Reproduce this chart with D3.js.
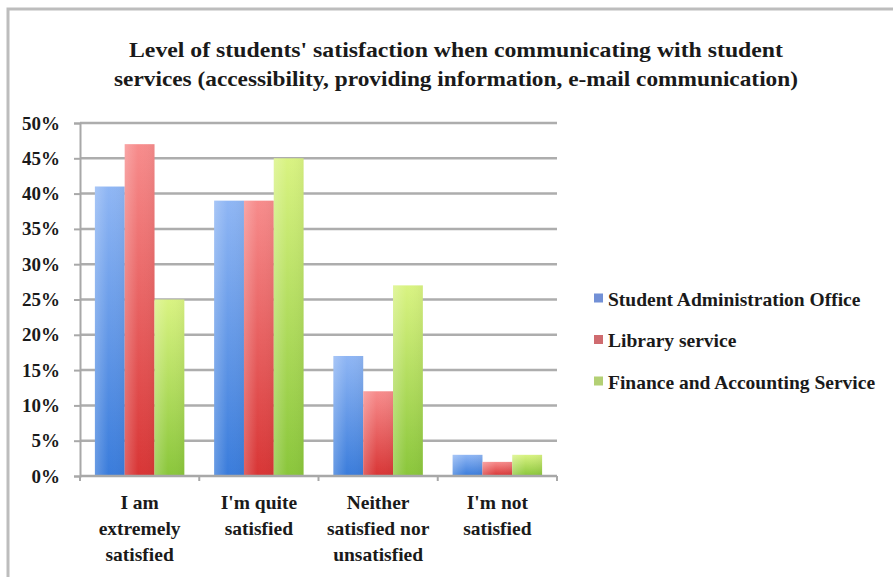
<!DOCTYPE html>
<html>
<head>
<meta charset="utf-8">
<script src="https://cdn.jsdelivr.net/npm/d3@7"></script>
<style>
  html, body { margin: 0; padding: 0; background: #fff; }
</style>
</head>
<body>
<svg id="chart" width="895" height="577"></svg>
<script>
// Survey answers (x categories), one label line per array entry
const categories = [
  ["I am", "extremely", "satisfied"],
  ["I'm quite", "satisfied"],
  ["Neither", "satisfied nor", "unsatisfied"],
  ["I'm not", "satisfied"]
];
const seriesNames = ["Student Administration Office", "Library service", "Finance and Accounting Service"];
// Percent of students per answer, one array per service
const studentAdmin = [41, 39, 17, 3];
const library = [47, 39, 12, 2];
const finance = [25, 45, 27, 3];
const yTicks = [0, 5, 10, 15, 20, 25, 30, 35, 40, 45, 50];
const titleLines = [
  "Level of students' satisfaction when communicating with student",
  "services (accessibility, providing information, e-mail communication)"
];

const FONT = "Liberation Serif";
const series = [studentAdmin, library, finance];
const gradStops = [
  ["#8fb6f4", "#3a7cdb"],
  ["#f78c8c", "#d83535"],
  ["#d9f382", "#8ac63b"]
];
const legendColors = ["#7290d6", "#cf6b6f", "#b3d074"];

const svg = d3.select("#chart");
const styleText = sel => sel.style("font-family", FONT).style("font-weight", "bold").style("fill", "#1a1a1a");

// gradients for the bars
const defs = svg.append("defs");
gradStops.forEach((c, i) => {
  const g = defs.append("linearGradient").attr("id", "g" + i)
    .attr("x1", 0).attr("y1", 0).attr("x2", 0).attr("y2", 1);
  g.append("stop").attr("offset", "0%").attr("stop-color", c[0]);
  g.append("stop").attr("offset", "100%").attr("stop-color", c[1]);
});
// soft highlight across each bar
const hl = defs.append("linearGradient").attr("id", "hl")
  .attr("x1", 0).attr("y1", 0).attr("x2", 1).attr("y2", 0);
hl.append("stop").attr("offset", "0%").attr("stop-color", "#fff").attr("stop-opacity", 0.22);
hl.append("stop").attr("offset", "45%").attr("stop-color", "#fff").attr("stop-opacity", 0);
hl.append("stop").attr("offset", "100%").attr("stop-color", "#000").attr("stop-opacity", 0.04);

// frame
svg.append("path")
  .attr("d", "M8,577 L8,9 L893,9")
  .attr("fill", "none").attr("stroke", "#bdbdbd").attr("stroke-width", 3);

// title
titleLines.forEach((t, i) => {
  svg.append("text")
    .attr("x", 456).attr("y", 57 + i * 29)
    .attr("text-anchor", "middle")
    .attr("textLength", i === 0 ? 654 : 684)
    .attr("lengthAdjust", "spacingAndGlyphs")
    .style("font-size", "21.5px")
    .call(styleText)
    .text(t);
});

const plot = { left: 80, right: 557, top: 123, bottom: 476 };

const x = d3.scaleBand().domain(d3.range(categories.length))
  .range([plot.left, plot.right]).paddingInner(0).paddingOuter(0);
const y = d3.scaleLinear().domain([0, 50]).range([plot.bottom, plot.top]);
const xs = d3.scaleBand().domain(d3.range(series.length))
  .range([0, x.bandwidth()]).paddingInner(0).paddingOuter(0.5);

// gridlines
svg.append("g").selectAll("line").data(yTicks.filter(d => d > 0)).join("line")
  .attr("x1", plot.left).attr("x2", plot.right)
  .attr("y1", d => y(d)).attr("y2", d => y(d))
  .attr("stroke", "#adadad").attr("stroke-width", 2.5);

// y axis
const yAxis = svg.append("g").attr("transform", `translate(${plot.left},0)`)
  .call(d3.axisLeft(y).tickValues(yTicks).tickFormat(d => d + "%").tickSize(6).tickPadding(14));
yAxis.attr("font-family", null);
yAxis.select(".domain").attr("stroke", "#a8a8a8").attr("stroke-width", 2);
yAxis.selectAll(".tick line").attr("stroke", "#a8a8a8").attr("stroke-width", 2);
yAxis.selectAll(".tick text").style("font-size", "19px").call(styleText);

// bars
const groups = svg.append("g").selectAll("g").data(categories).join("g")
  .attr("transform", (d, i) => `translate(${x(i)},0)`);
series.forEach((vals, s) => {
  groups.append("rect")
    .attr("x", xs(s)).attr("width", xs.bandwidth())
    .attr("y", (d, i) => y(vals[i])).attr("height", (d, i) => y(0) - y(vals[i]))
    .attr("fill", `url(#g${s})`);
  groups.append("rect")
    .attr("x", xs(s)).attr("width", xs.bandwidth())
    .attr("y", (d, i) => y(vals[i])).attr("height", (d, i) => y(0) - y(vals[i]))
    .attr("fill", "url(#hl)");
});

// x axis
const xAxis = svg.append("g").attr("transform", `translate(0,${plot.bottom})`);
xAxis.append("line").attr("x1", plot.left).attr("x2", plot.right)
  .attr("stroke", "#a8a8a8").attr("stroke-width", 2.5);
xAxis.selectAll(".tk").data(d3.range(categories.length + 1)).join("line")
  .attr("class", "tk")
  .attr("x1", d => plot.left + d * x.step()).attr("x2", d => plot.left + d * x.step())
  .attr("y1", 0).attr("y2", 5).attr("stroke", "#a8a8a8").attr("stroke-width", 2);
categories.forEach((lines, i) => {
  const cx = x(i) + x.bandwidth() / 2;
  const t = xAxis.append("text")
    .attr("text-anchor", "middle").attr("x", cx).attr("y", 33)
    .style("font-size", "19.5px").call(styleText);
  lines.forEach((ln, k) => {
    t.append("tspan").attr("x", cx).attr("dy", k === 0 ? 0 : 26).text(ln);
  });
});

// legend
const legend = svg.append("g").attr("transform", "translate(594,305.5)");
seriesNames.forEach((name, i) => {
  const row = legend.append("g").attr("transform", `translate(0,${i * 41.5})`);
  row.append("rect").attr("x", 0).attr("y", -12).attr("width", 9).attr("height", 9)
    .attr("fill", legendColors[i]);
  row.append("text").attr("x", 14).attr("y", 0)
    .style("font-size", "19.5px").call(styleText).text(name);
});
</script>
</body>
</html>
